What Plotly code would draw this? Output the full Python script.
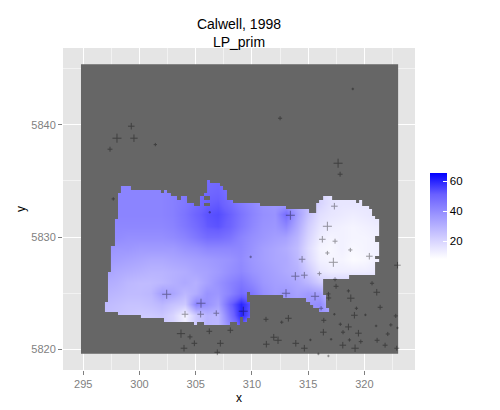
import plotly.graph_objects as go

TITLE = "Calwell, 1998<br>LP_prim"

grid_x = list(range(296, 323))
grid_y = list(range(5821, 5837))
# LP_prim surface, rows from south to north
z_5821 = [37,37,37,37,37,37,37,37,37,37,37,37,37,45,37,37,37,37,37,37,37,37,37,37,37,37,37]
z_5822 = [26,26,25,24,23,23,24,20,14,23,29,28,40,52,37,37,37,37,37,37,37,37,37,37,37,37,37]
z_5823 = [26,26,25,24,23,23,24,20,11,23,29,28,46,60,50,42,38,37,37,37,37,37,37,37,37,37,37]
z_5824 = [27,27,26,25,25,26,28,25,23,42,38,34,50,60,52,43,38,36,36,38,40,30,25,25,25,25,25]
z_5825 = [29,29,28,27,27,28,35,33,28,31,38,37,42,48,45,39,36,37,34,36,34,22,22,22,22,22,22]
z_5826 = [31,31,30,28,27,27,28,30,32,30,34,38,42,45,41,37,35,34,32,28,22,20,20,20,20,20,20]
z_5827 = [34,34,32,31,30,29,29,30,31,33,34,36,39,41,38,36,34,32,30,23,15,13,13,13,13,14,14]
z_5828 = [36,36,35,34,33,32,32,33,34,35,36,37,38,40,37,35,33,32,28,19,12,11,11,9,10,12,13]
z_5829 = [38,38,37,37,36,36,36,36,38,39,41,41,41,41,38,35,33,31,27,18,11,10,12,10,11,12,13]
z_5830 = [40,40,40,39,39,39,39,40,42,45,48,48,46,42,39,37,35,34,29,20,13,11,12,11,11,12,13]
z_5831 = [41,41,41,41,41,41,41,42,45,48,52,53,50,45,41,38,37,41,32,22,15,13,12,11,12,13,13]
z_5832 = [42,42,42,42,42,42,42,43,46,50,53,54,51,46,42,39,38,48,35,25,17,15,14,13,14,15,15]
z_5833 = [42,42,42,42,42,42,42,43,45,48,51,52,48,44,41,38,37,35,32,27,20,16,15,15,15,15,15]
z_5834 = [42,42,42,42,42,42,42,43,45,47,49,50,47,43,40,37,35,33,31,26,20,16,15,15,15,15,15]
z_5835 = [42,42,42,42,42,42,42,43,44,46,48,49,47,42,39,37,35,33,31,26,20,16,15,15,15,15,15]
z_5836 = [42,42,42,42,42,42,42,43,44,46,47,48,46,41,39,37,35,33,31,26,20,16,15,15,15,15,15]
z_rows = [z_5821,z_5822,z_5823,z_5824,z_5825,z_5826,z_5827,z_5828,z_5829,z_5830,z_5831,z_5832,z_5833,z_5834,z_5835,z_5836]

# grid extent (no estimate is available beyond it)
extent_x = [294.8, 323.0]
extent_y = [5819.6, 5845.4]

# outline of the estimated area
edge_x = [298.09,298.35,298.35,299.24,299.24,301.91,301.91,302.18,302.18,302.45,302.45,302.80,302.80,303.34,303.34,303.69,303.69,304.23,304.23,304.85,304.85,305.38,305.38,305.74,305.74,306.01,306.01,306.27,306.27,307.16,307.16,307.43,307.43,307.78,307.78,308.32,308.32,310.72,310.72,313.03,313.03,315.08,315.08,315.71,315.71,315.97,315.97,316.33,316.33,317.13,317.13,319.26,319.26,319.53,319.53,319.80,319.80,320.42,320.42,320.68,320.68,320.95,320.95,321.31,321.31,320.95,320.95,321.31,321.31,320.95,320.95,321.31,321.31,320.95,320.95,318.64,318.64,316.33,316.33,316.59,316.59,316.86,316.86,315.97,315.97,315.44,315.44,315.17,315.17,314.81,314.81,312.77,312.77,309.83,309.83,309.56,309.56,309.83,309.83,309.56,309.56,309.21,309.21,308.94,308.94,308.67,308.67,308.05,308.05,305.74,305.74,305.12,305.12,304.85,304.85,302.18,302.18,300.13,300.13,298.09,298.09,296.93,296.93,297.20,297.20,297.46,297.46,297.82,297.82,298.09,298.09]
edge_y = [5833.93,5833.93,5834.56,5834.56,5834.20,5834.20,5833.93,5833.93,5834.20,5834.20,5833.93,5833.93,5833.66,5833.66,5833.31,5833.31,5833.66,5833.66,5833.04,5833.04,5832.77,5832.77,5833.66,5833.66,5833.93,5833.93,5835.09,5835.09,5834.82,5834.82,5834.56,5834.56,5834.20,5834.20,5833.31,5833.31,5833.04,5833.04,5832.77,5832.77,5832.50,5832.50,5832.15,5832.15,5833.04,5833.04,5833.31,5833.31,5833.66,5833.66,5833.31,5833.31,5833.04,5833.04,5833.31,5833.31,5832.77,5832.77,5832.50,5832.50,5831.88,5831.88,5831.61,5831.61,5830.10,5830.10,5829.56,5829.56,5828.32,5828.32,5828.05,5828.05,5827.78,5827.78,5826.62,5826.62,5826.27,5826.27,5824.84,5824.84,5823.68,5823.68,5823.32,5823.32,5823.68,5823.68,5823.95,5823.95,5824.22,5824.22,5824.57,5824.57,5824.84,5824.84,5825.11,5825.11,5824.22,5824.22,5822.79,5822.79,5822.43,5822.43,5822.88,5822.88,5822.17,5822.17,5822.43,5822.43,5822.17,5822.17,5822.43,5822.43,5822.17,5822.17,5822.43,5822.43,5822.79,5822.79,5823.06,5823.06,5823.32,5823.32,5824.22,5824.22,5826.89,5826.89,5829.21,5829.21,5831.61,5831.61,5833.93]
island_blue_x = [309.83,310.45,310.45,309.83,309.83]
island_blue_y = [5821.90,5821.90,5822.43,5822.43,5821.90]
gap_a_x = [305.74,306.27,306.27,305.74,305.74]
gap_a_y = [5833.31,5833.31,5833.66,5833.66,5833.31]
gap_b_x = [305.74,306.27,306.27,305.74,305.74]
gap_b_y = [5832.77,5832.77,5833.04,5833.04,5832.77]

# sample points
pts_x = [299.27,298.00,299.51,297.38,301.41,297.67,312.50,318.97,317.66,317.84,317.33,306.25,302.42,305.47,304.05,305.44,306.83,303.69,304.49,306.21,308.08,304.88,307.19,303.96,306.92,313.42,316.71,316.26,317.39,316.71,318.75,320.44,309.89,314.46,317.24,316.00,313.86,314.66,317.39,322.94,320.68,317.48,318.58,321.10,316.80,313.03,315.61,316.83,318.79,316.15,319.29,321.40,317.33,319.11,320.09,322.79,309.23,311.25,313.24,312.65,316.39,317.86,318.58,321.04,322.35,322.94,316.35,318.10,319.47,322.08,311.94,312.32,315.20,317.04,318.67,319.68,321.13,321.84,313.90,311.28,314.66,318.08,319.17,322.88,315.91,316.80]
pts_y = [5839.88,5838.81,5838.81,5837.83,5838.24,5833.40,5840.59,5843.20,5836.58,5835.60,5832.75,5832.21,5824.90,5824.10,5823.12,5823.12,5823.21,5821.39,5821.10,5821.60,5821.69,5820.53,5820.53,5820.09,5819.73,5831.94,5830.96,5829.80,5829.63,5828.58,5828.85,5828.29,5828.23,5828.02,5827.75,5826.74,5826.51,5826.60,5826.24,5827.49,5825.88,5825.61,5825.20,5825.08,5824.93,5824.99,5824.72,5824.57,5824.55,5823.65,5823.65,5823.74,5823.12,5823.03,5823.06,5822.97,5823.39,5822.67,5822.76,5822.41,5822.58,5822.23,5821.99,5822.08,5822.17,5821.90,5821.52,5821.52,5821.43,5821.36,5821.07,5820.80,5820.83,5820.89,5820.83,5820.68,5820.80,5820.36,5820.53,5820.45,5820.09,5820.36,5820.09,5820.09,5819.58,5819.40]
pts_n = [8,11,9,6,4,4,5,3,11,6,8,3,11,11,8,8,7,10,6,7,7,7,8,8,7,11,11,8,6,5,5,8,3,8,11,5,10,8,5,8,5,6,4,8,5,10,10,6,9,5,4,6,3,8,3,5,11,6,8,4,6,4,8,3,4,3,8,5,8,5,8,9,3,3,4,5,6,6,8,8,8,8,9,6,3,3]

x_ticks = [295,300,305,310,315,320]
y_ticks = [5820,5830,5840]
cbar_ticks = [20,40,60]
z_limits = [8,65.5]

GREY = "#7F7F7F"
scale = [[0,"#FFFFFF"],[0.25,"#D0CCFF"],[0.5,"#9E98FF"],[0.75,"#6A60FF"],[1,"#0000FF"]]

mask_x = [extent_x[0],extent_x[1],extent_x[1],extent_x[0],extent_x[0],None] + edge_x + [None] + island_blue_x + [None] + gap_a_x + [None] + gap_b_x
mask_y = [extent_y[0],extent_y[0],extent_y[1],extent_y[1],extent_y[0],None] + edge_y + [None] + island_blue_y + [None] + gap_a_y + [None] + gap_b_y

fig = go.Figure()
fig.add_trace(go.Heatmap(x=grid_x, y=grid_y, z=z_rows, zsmooth="best", zmin=z_limits[0], zmax=z_limits[1],
    colorscale=scale, hoverinfo="skip",
    colorbar=dict(thicknessmode="pixels", thickness=17, lenmode="pixels", len=86, x=1.0426, xanchor="left",
                  y=0.478, yanchor="middle", xpad=0, ypad=0, outlinewidth=0, tickvals=cbar_ticks,
                  ticks="inside", ticklen=4, tickcolor="white", tickwidth=1,
                  tickfont=dict(family="Liberation Sans", size=11.5, color="black"))))
fig.add_trace(go.Scatter(x=mask_x, y=mask_y, mode="lines", fill="toself", fillcolor="#666666",
    line=dict(width=0), hoverinfo="skip", showlegend=False))
fig.add_trace(go.Scatter(x=pts_x, y=pts_y, mode="markers", hoverinfo="skip", showlegend=False,
    marker=dict(symbol="cross-thin", size=pts_n, sizemode="diameter", sizeref=1.7, opacity=0.38, line=dict(color="black", width=1))))

fig.update_layout(
    width=492, height=402, autosize=False, paper_bgcolor="white", plot_bgcolor="#E5E5E5",
    margin=dict(l=55, r=85, t=40, b=40, autoexpand=False), showlegend=False,
    font=dict(family="Liberation Sans", color="black"),
    title=dict(text=TITLE, x=231/492, xanchor="center", y=0.949, yanchor="bottom",
               font=dict(family="Liberation Sans", size=14, color="black")),
    xaxis=dict(range=[293.2,324.5], tickvals=x_ticks, ticks="outside", ticklen=4, tickcolor=GREY, tickwidth=1,
               tickfont=dict(size=11, color=GREY), gridcolor="white", gridwidth=1.2, zeroline=False, showline=False, automargin=False,
               minor=dict(tickvals=[297.5,302.5,307.5,312.5,317.5,322.5], showgrid=True, gridcolor="#F2F2F2", gridwidth=0.6, ticks=""),
               title=dict(text="x", font=dict(size=12, color="black"), standoff=4)),
    yaxis=dict(range=[5818.15,5846.85], tickvals=y_ticks, ticks="outside", ticklen=4, tickcolor=GREY, tickwidth=1,
               tickfont=dict(size=11, color=GREY), gridcolor="white", gridwidth=1.2, zeroline=False, showline=False, automargin=False,
               minor=dict(tickvals=[5825,5835,5845], showgrid=True, gridcolor="#F2F2F2", gridwidth=0.6, ticks=""),
               title=dict(text="y", font=dict(size=12, color="black"), standoff=3)),
)
fig.write_html("out.html")
